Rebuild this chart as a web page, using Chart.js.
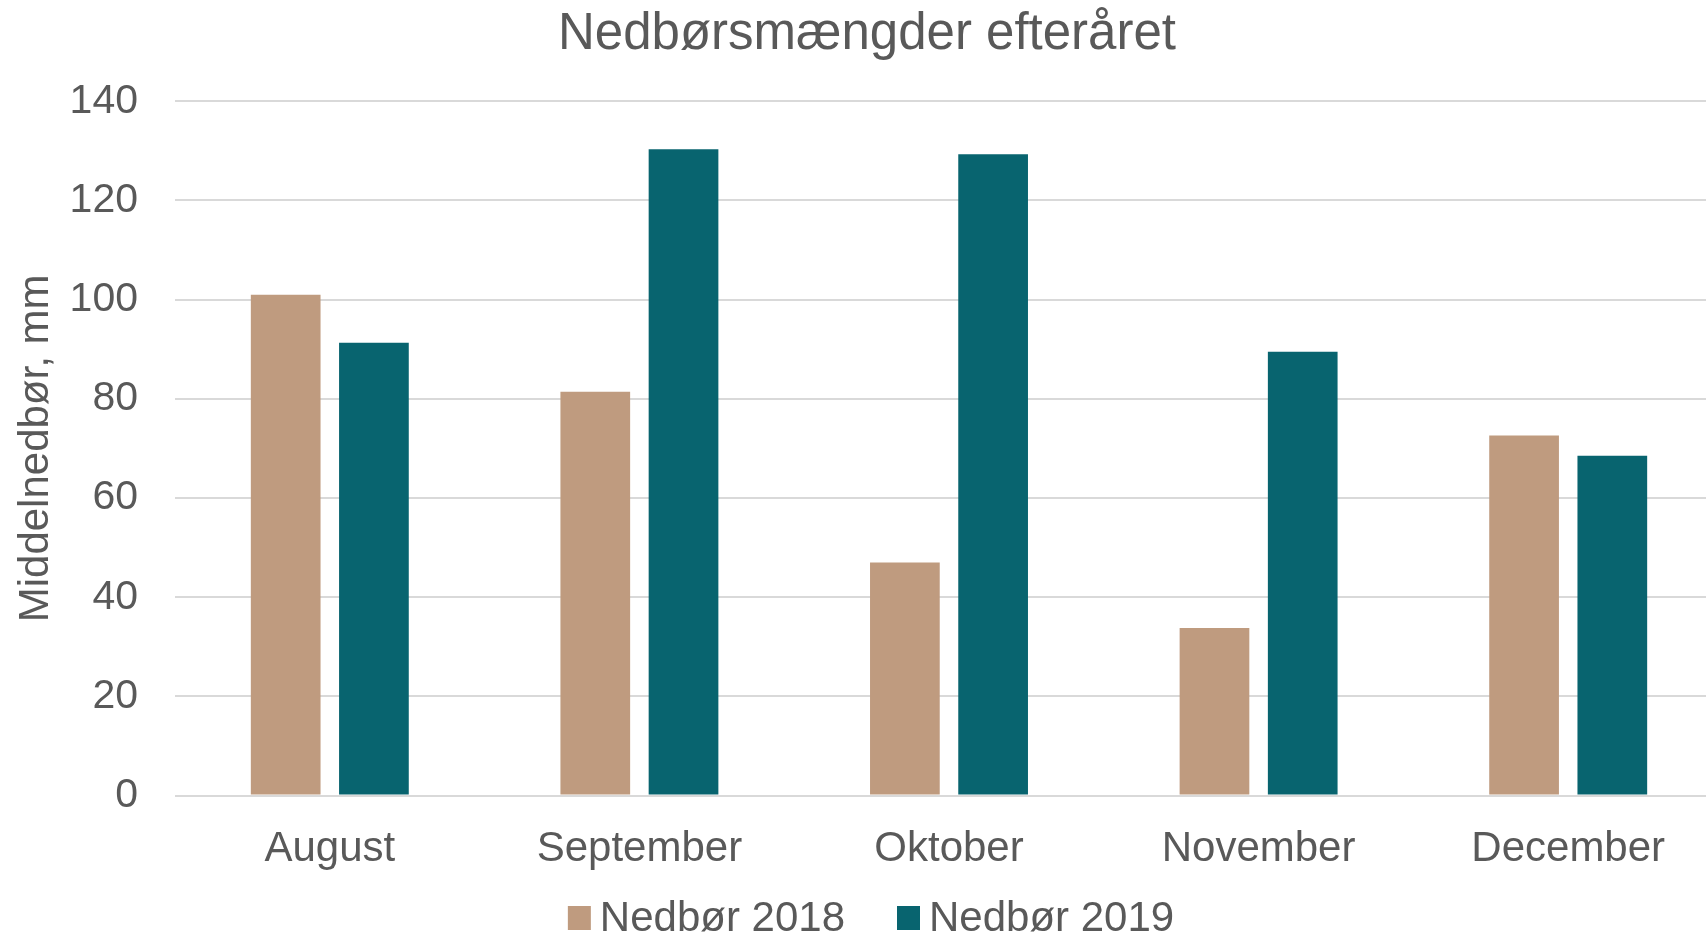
<!DOCTYPE html>
<html>
<head>
<meta charset="utf-8">
<script src="https://cdn.jsdelivr.net/npm/chart.js@4.4.1/dist/chart.umd.min.js"></script>
<style>
  html, body { margin: 0; padding: 0; background: #fff; overflow: hidden; }
  #wrap { width: 1730px; height: 936px; }
</style>
</head>
<body>
<div id="wrap"><canvas id="nedborChart"></canvas></div>
<script>
// Data
var maaneder = ['August', 'September', 'Oktober', 'November', 'December'];
var nedbor2018 = [101, 81.4, 47, 33.8, 72.6];
var nedbor2019 = [91.3, 130.3, 129.3, 89.5, 68.5];
var yTicks = [0, 20, 40, 60, 80, 100, 120, 140];

var tekstFarve = '#595959';
var fontNavn = '"Liberation Sans", Arial, sans-serif';
Chart.defaults.font.family = fontNavn;
Chart.defaults.color = tekstFarve;

// Egen forklaring (legend) i bunden, tættere på Excel-udseendet
var bundLegend = {
    id: 'bundLegend',
    afterDraw: function(chart) {
        var c = chart.ctx;
        var boksB = 23, boksH = 24, tekstAfstand = 9, mellemrum = 52;
        c.save();
        c.font = '42px ' + fontNavn;
        c.textBaseline = 'middle';
        var bredder = chart.data.datasets.map(function(ds) { return c.measureText(ds.label).width; });
        var total = 0;
        bredder.forEach(function(b, i) {
            total += boksB + tekstAfstand + b + (i > 0 ? mellemrum : 0);
        });
        var x = chart.width / 2 + 6 - total / 2;
        var y = 918;
        chart.data.datasets.forEach(function(ds, i) {
            c.fillStyle = ds.backgroundColor;
            c.fillRect(x, y - boksH / 2, boksB, boksH);
            x += boksB + tekstAfstand;
            c.fillStyle = tekstFarve;
            c.fillText(ds.label, x, y + 1);
            x += bredder[i] + mellemrum;
        });
        c.restore();
    }
};

var ctx = document.getElementById('nedborChart').getContext('2d');
var nedborChart = new Chart(ctx, {
    type: 'bar',
    data: {
        labels: maaneder,
        datasets: [{
            label: 'Nedbør 2018',
            data: nedbor2018,
            backgroundColor: '#BF9B7F',
            categoryPercentage: 0.57,
            barPercentage: 0.79
        }, {
            label: 'Nedbør 2019',
            data: nedbor2019,
            backgroundColor: '#08646F',
            categoryPercentage: 0.57,
            barPercentage: 0.79
        }]
    },
    plugins: [bundLegend],
    options: {
        responsive: true,
        maintainAspectRatio: false,
        animation: false,
        devicePixelRatio: 1,
        layout: { padding: { left: 11, right: 7, top: 0, bottom: 32 } },
        plugins: {
            title: {
                display: true,
                text: 'Nedbørsmængder efteråret',
                font: { size: 51, weight: 'normal' },
                color: tekstFarve,
                padding: { top: 4, bottom: 36 }
            },
            legend: { display: false },
            tooltip: { enabled: false }
        },
        scales: {
            x: {
                grid: { display: false, drawTicks: false },
                border: { display: false },
                ticks: { font: { size: 42 }, padding: 29 }
            },
            y: {
                min: 0,
                max: 140,
                afterBuildTicks: function(axis) {
                    axis.ticks = yTicks.map(function(v) { return { value: v }; });
                },
                afterFit: function(axis) { axis.width = 164; },
                grid: { color: '#d9d9d9', lineWidth: 2, drawTicks: false },
                border: { display: false },
                ticks: { font: { size: 41 }, padding: 37 },
                title: {
                    display: true,
                    text: 'Middelnedbør, mm',
                    font: { size: 42 },
                    padding: { top: 0, bottom: 0 }
                }
            }
        }
    }
});
</script>
</body>
</html>
